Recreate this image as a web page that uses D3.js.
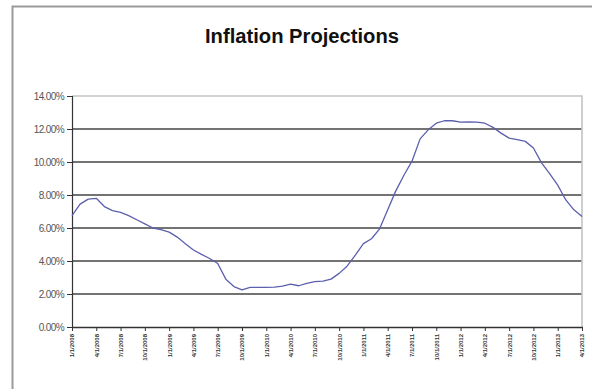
<!DOCTYPE html>
<html>
<head>
<meta charset="utf-8">
<script src="https://cdn.jsdelivr.net/npm/d3@7"></script>
<style>
  html, body { margin: 0; padding: 0; background: #fff; }
  svg { display: block; }
</style>
</head>
<body>
<svg id="chart" width="592" height="389"></svg>
<script>
// Quarterly category labels along the x axis
const tickLabels = [
  "1/1/2008","4/1/2008","7/1/2008","10/1/2008",
  "1/1/2009","4/1/2009","7/1/2009","10/1/2009",
  "1/1/2010","4/1/2010","7/1/2010","10/1/2010",
  "1/1/2011","4/1/2011","7/1/2011","10/1/2011",
  "1/1/2012","4/1/2012","7/1/2012","10/1/2012",
  "1/1/2013","4/1/2013"
];

// Projected inflation rate (%), monthly
const inflation = [
  6.75, 7.45, 7.75, 7.80, 7.30, 7.05, 6.95, 6.75, 6.50, 6.25,
  6.00, 5.90, 5.75, 5.45, 5.05, 4.67, 4.40, 4.15, 3.85, 2.90,
  2.45, 2.25, 2.40, 2.40, 2.40, 2.42, 2.48, 2.60, 2.50, 2.65,
  2.75, 2.78, 2.90, 3.25, 3.70, 4.35, 5.05, 5.35, 5.95, 7.10,
  8.25, 9.20, 10.05, 11.40, 11.95, 12.35, 12.50, 12.50, 12.42, 12.43,
  12.42, 12.35, 12.10, 11.75, 11.45, 11.35, 11.25, 10.85, 9.95, 9.30,
  8.60, 7.70, 7.10, 6.70
];

const yTicks = [0, 2, 4, 6, 8, 10, 12, 14];
const pointsPerLabel = 3;

const svg = d3.select("#chart");
const plot = { left: 72, right: 582, top: 96, bottom: 327 };

// Outer chart frame (cropped on the right and bottom)
svg.append("path")
  .attr("d", "M12.5,389 L12.5,6.5 L592,6.5")
  .attr("fill", "none")
  .attr("stroke", "#9a9a9a")
  .attr("stroke-width", 2);

// Title
svg.append("text")
  .attr("x", 302)
  .attr("y", 43)
  .attr("text-anchor", "middle")
  .attr("font-family", "'Liberation Sans', Arial, sans-serif")
  .attr("font-weight", "bold")
  .attr("font-size", 20)
  .attr("textLength", 194)
  .attr("lengthAdjust", "spacingAndGlyphs")
  .attr("fill", "#111")
  .text("Inflation Projections");

const x = d3.scaleLinear()
  .domain([0, inflation.length - 1])
  .range([plot.left, plot.right]);

const y = d3.scaleLinear()
  .domain([0, 14])
  .range([plot.bottom, plot.top]);

// Horizontal gridlines
svg.append("g")
  .selectAll("line")
  .data(yTicks.filter(d => d > 0 && d < 14))
  .join("line")
  .attr("x1", plot.left)
  .attr("x2", plot.right)
  .attr("y1", d => y(d))
  .attr("y2", d => y(d))
  .attr("stroke", "#444")
  .attr("stroke-width", 1.5);

// Plot-area border (light grey top and right)
svg.append("path")
  .attr("d", `M${plot.left},${plot.top} L${plot.right},${plot.top} L${plot.right},${plot.bottom}`)
  .attr("fill", "none")
  .attr("stroke", "#c4c4c4")
  .attr("stroke-width", 1.6);

// Y axis
const yAxis = d3.axisLeft(y)
  .tickValues(yTicks)
  .tickSize(5)
  .tickPadding(3)
  .tickFormat(d => d.toFixed(2) + "%");

const gy = svg.append("g")
  .attr("transform", `translate(${plot.left},0)`)
  .call(yAxis);
gy.select(".domain").attr("stroke", "#333").attr("stroke-width", 1.2);
gy.selectAll(".tick line").attr("stroke", "#333");
gy.selectAll(".tick text")
  .attr("font-family", "'Liberation Sans', Arial, sans-serif")
  .attr("font-size", 10)
  .attr("letter-spacing", -0.6)
  .attr("fill", "#555");

// X axis: one label every quarter (three monthly points)
const xTickIdx = tickLabels.map((_, i) => i * pointsPerLabel);
const xAxis = d3.axisBottom(x)
  .tickValues(xTickIdx)
  .tickSize(4)
  .tickSizeOuter(0)
  .tickFormat((d, i) => tickLabels[i]);

const gx = svg.append("g")
  .attr("transform", `translate(0,${plot.bottom})`)
  .call(xAxis);
gx.select(".domain").attr("stroke", "#333").attr("stroke-width", 1.4);
gx.selectAll(".tick line").attr("stroke", "#333");
gx.selectAll(".tick text")
  .attr("font-family", "'Liberation Sans', Arial, sans-serif")
  .attr("font-size", 6)
  .attr("font-weight", "bold")
  .attr("fill", "#333")
  .attr("text-anchor", "end")
  .attr("transform", "rotate(-90)")
  .attr("x", -7)
  .attr("y", 0)
  .attr("dy", "0.32em");

// Inflation line
const line = d3.line()
  .x((d, i) => x(i))
  .y(d => y(d))
  .curve(d3.curveLinear);

svg.append("path")
  .datum(inflation)
  .attr("d", line)
  .attr("fill", "none")
  .attr("stroke", "#5c5fae")
  .attr("stroke-width", 1.3)
  .attr("stroke-linejoin", "round");
</script>
</body>
</html>
